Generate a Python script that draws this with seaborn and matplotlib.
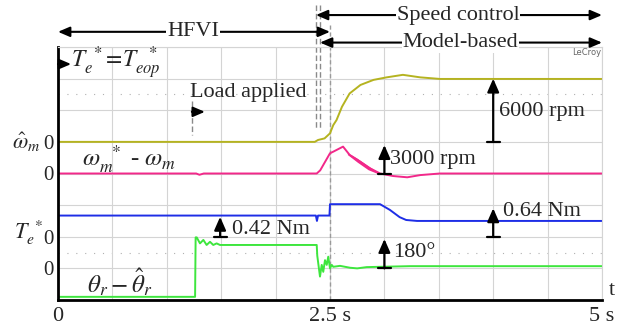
import numpy as np
import matplotlib
matplotlib.use("Agg")
import matplotlib.pyplot as plt
import seaborn as sns

# ================================
# scope traces: time in s, level in screen divisions (8 div full screen)
# ================================
t_speed = [0, 2.36, 2.39, 2.45, 2.50, 2.53, 2.56, 2.61, 2.68, 2.78, 2.90, 3.02, 3.17, 3.33, 3.51, 5.0]
speed_div = [5.0, 5.0, 5.06, 5.11, 5.27, 5.53, 5.69, 6.11, 6.53, 6.80, 6.96, 7.04, 7.12, 7.04, 6.99, 6.99]

t_err = [0, 1.27, 1.30, 1.34, 2.378, 2.41, 2.50, 2.53, 2.62, 2.68, 2.78, 2.87, 2.96, 3.08, 3.21, 3.33, 3.51, 5.0]
err_div = [4.0, 4.0, 3.96, 4.0, 4.0, 4.1, 4.64, 4.69, 4.85, 4.59, 4.37, 4.16, 4.0, 3.92, 3.88, 3.95, 4.0, 4.0]
# thick (noisy) part of the speed error while it falls back
band_t = [2.66, 2.75, 2.85, 2.95]
band_lo = [4.60, 4.36, 4.12, 3.98]
band_hi = [4.66, 4.48, 4.24, 4.03]

t_torque = [0, 2.37, 2.38, 2.39, 2.495, 2.50, 2.96, 3.05, 3.14, 3.20, 3.30, 5.0]
torque_div = [2.67, 2.67, 2.50, 2.67, 2.67, 3.03, 3.03, 2.85, 2.62, 2.53, 2.50, 2.50]

t_theta = [0, 1.26, 1.265, 1.275, 1.305, 1.336, 1.366, 1.397, 1.427, 1.458, 1.489, 2.378,
           2.383, 2.408, 2.424, 2.438, 2.454, 2.47, 2.484, 2.50, 2.516, 2.53, 2.592, 2.684, 2.75, 2.837, 3.235, 5.0]
theta_div = [0.10, 0.10, 1.98, 1.98, 1.79, 1.90, 1.74, 1.84, 1.74, 1.79, 1.74, 1.74,
             1.40, 0.74, 1.11, 0.89, 1.26, 1.11, 1.37, 1.0, 1.11, 1.05, 1.08, 1.02, 1.0, 1.04, 1.07, 1.07]

zero_levels = [1, 2, 4, 5]
x_ticks = [0, 2.5, 5]
x_labels = ['0', '2.5 s', '5 s']
switch_t = [2.371, 2.408]

c_speed = '#b5b320'
c_err = '#f2288a'
c_torque = '#1e2ee6'
c_theta = '#3ee63e'

sns.set_style("white")
plt.rcParams['font.family'] = ['Liberation Serif', 'DejaVu Serif']
plt.rcParams['mathtext.fontset'] = 'stix'

fig = plt.figure(figsize=(6.29, 3.26), dpi=100)
ax = fig.add_axes([58/629, 26/326, 544/629, 253/326])
ax.set_xlim(0, 5)
ax.set_ylim(0, 8)

# grid like the scope screen
ax.set_xticks(np.arange(0, 5.01, 0.5), minor=True)
ax.set_yticks(np.arange(0, 8.01, 1), minor=True)
ax.grid(which='both', color='#d4d4d4', lw=0.8)
ax.set_axisbelow(True)
for yy in [6.5, 1.5]:
    ax.axhline(yy, color='#b0b0b0', lw=0.8, ls=(0, (1, 7)), zorder=0)
ax.plot([2.5, 2.5], [0, 8.76], color='#9a9a9a', lw=1, ls=(0, (3, 2)), clip_on=False, zorder=1)

# traces
sns.lineplot(x=t_speed, y=speed_div, ax=ax, color=c_speed, lw=1.4, estimator=None, sort=False)
sns.lineplot(x=t_err, y=err_div, ax=ax, color=c_err, lw=1.4, estimator=None, sort=False)
ax.fill_between(band_t, band_lo, band_hi, color=c_err, lw=0)
sns.lineplot(x=t_torque, y=torque_div, ax=ax, color=c_torque, lw=1.4, estimator=None, sort=False)
sns.lineplot(x=t_theta, y=theta_div, ax=ax, color=c_theta, lw=1.4, estimator=None, sort=False)

# axes
ax.set_xticks(x_ticks)
ax.set_xticklabels(x_labels, fontsize=16)
ax.set_yticks(zero_levels)
ax.set_yticklabels(['0'] * len(zero_levels), fontsize=15)
ax.tick_params(axis='x', which='major', direction='in', length=7, width=1.5, pad=5)
ax.tick_params(axis='y', which='major', direction='in', length=9, width=2, pad=3)
ax.tick_params(which='minor', length=0)
for s in ['left', 'bottom']:
    ax.spines[s].set_color('k')
    ax.spines[s].set_linewidth(2)
for s in ['top', 'right']:
    ax.spines[s].set_color('#d4d4d4')
    ax.spines[s].set_linewidth(0.8)
ax.set_xlabel('')
ax.set_ylabel('')

# channel names
ax.text(-0.165, 5.0, r'$\hat{\omega}_m$', fontsize=16, ha='right', va='center', clip_on=False)
ax.text(-0.135, 2.12, r'$T_e^{\ *}$', fontsize=16, ha='right', va='center', clip_on=False)
ax.text(0.22, 4.45, r'$\omega_m^{\ \ *}$ - $\omega_m$', fontsize=18, ha='left', va='center')
ax.text(0.27, 0.56, r'$\theta_r-\hat{\theta}_r$', fontsize=18, ha='left', va='center')
ax.text(5.06, 0.3, 't', fontsize=16, ha='left', va='center', clip_on=False)
ax.text(4.99, 7.82, 'LeCroy', fontsize=6, color='#666666', family='DejaVu Sans', ha='right', va='center')

# mode arrows on top
hd = '<|-|>,head_length=0.7,head_width=0.3'
modes = [('HFVI', 0.0, 2.5, 8.48, 1.24),
         ('Speed control', switch_t[0], 5.0, 9.01, 3.68),
         ('Model-based', switch_t[1], 5.0, 8.14, 3.70)]
for name, t0, t1, yy, tx in modes:
    ax.annotate('', xy=(t1, yy), xytext=(t0, yy), annotation_clip=False,
                arrowprops=dict(arrowstyle=hd, color='k', lw=1.5, shrinkA=0, shrinkB=0))
    ax.text(tx, yy, name, fontsize=16, ha='center', va='center', clip_on=False,
            bbox=dict(fc='white', ec='none', pad=0.5), zorder=5)
for ts in switch_t:
    ax.plot([ts, ts], [9.33, 5.44], color='#8a8a8a', lw=1, ls=(0, (4, 2)), clip_on=False)

# torque reference note
ax.annotate('', xy=(0.12, 7.46), xytext=(0.0, 7.46),
            arrowprops=dict(arrowstyle='-|>,head_length=0.7,head_width=0.3', color='k', lw=1.5, shrinkA=0, shrinkB=0))
ax.text(0.12, 7.52, r'$T_e^{\ *}\!=\!T_{eop}^{\ \ *}$', fontsize=17, ha='left', va='center')

# load applied
ax.text(1.21, 6.55, 'Load applied', fontsize=16, ha='left', va='center')
ax.plot([1.23, 1.23], [6.28, 5.22], color='#8a8a8a', lw=1, ls=(0, (4, 2)))
ax.annotate('', xy=(1.35, 5.95), xytext=(1.23, 5.95),
            arrowprops=dict(arrowstyle='-|>,head_length=0.7,head_width=0.3', color='k', lw=1.5, shrinkA=0, shrinkB=0))

# scale arrows
scales = [(4.0, 5.0, 7.0, '6000 rpm', 4.05, 5.95),
          (3.0, 4.0, 4.9, '3000 rpm', 3.05, 4.43),
          (4.0, 2.0, 2.9, '0.64 Nm', 4.09, 2.8),
          (1.49, 2.0, 2.63, '0.42 Nm', 1.60, 2.24),
          (3.0, 1.0, 1.93, '180°', 3.08, 1.49)]
for tt, y0, y1, lab, tx, ty in scales:
    ax.annotate('', xy=(tt, y1), xytext=(tt, y0),
                arrowprops=dict(arrowstyle='-|>,head_length=0.8,head_width=0.35', color='k', lw=1.6, shrinkA=0, shrinkB=0))
    ax.plot([tt - 0.06, tt + 0.06], [y0, y0], color='k', lw=1.6)
    ax.text(tx, ty, lab, fontsize=16, ha='left', va='center')

plt.savefig('out.png', dpi=100)
